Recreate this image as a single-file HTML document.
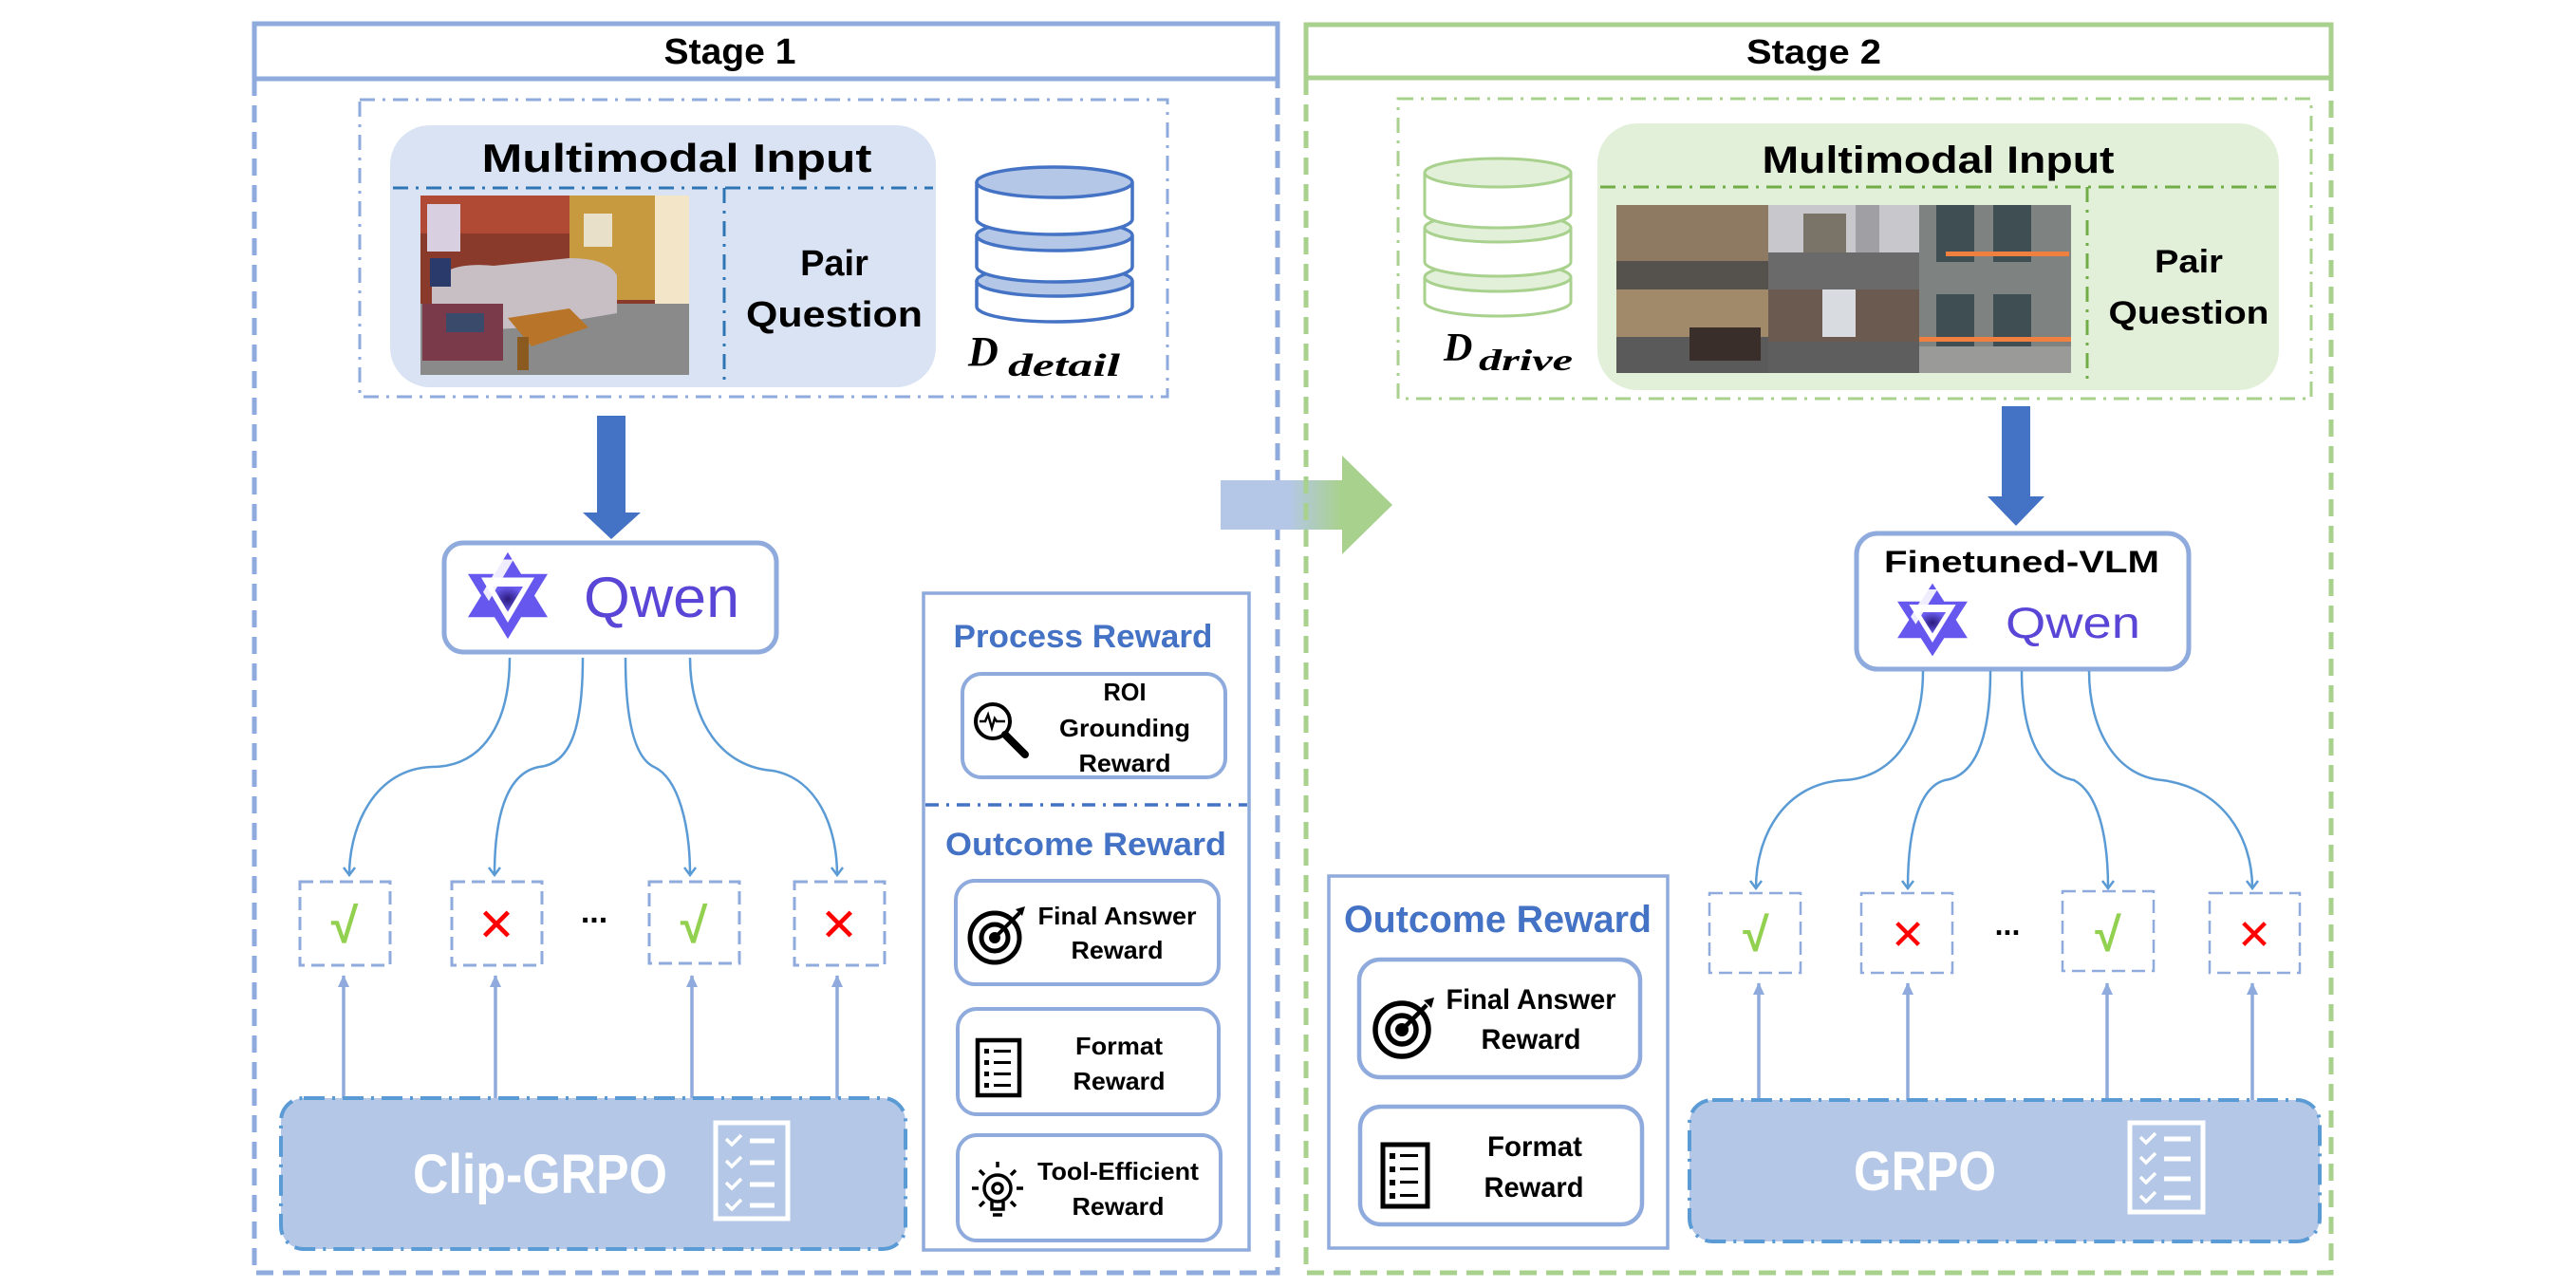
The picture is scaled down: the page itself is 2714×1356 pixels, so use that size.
<!DOCTYPE html>
<html><head><meta charset="utf-8"><style>html,body{margin:0;padding:0;background:#fff}svg{display:block}</style></head>
<body>
<svg width="2714" height="1356" viewBox="0 0 2714 1356" xmlns="http://www.w3.org/2000/svg" font-family="'Liberation Sans', 'DejaVu Sans', sans-serif">
<defs>
<marker id="ah" markerWidth="14" markerHeight="14" refX="10" refY="7" orient="auto" markerUnits="userSpaceOnUse">
<path d="M2,1 L10,7 L2,13" fill="none" stroke="#5b9bd5" stroke-width="2.5"/></marker>
<marker id="ah2" markerWidth="16" markerHeight="16" refX="12" refY="8" orient="auto" markerUnits="userSpaceOnUse">
<path d="M0,2 L13,8 L0,14 z" fill="#8faadc"/></marker>
<linearGradient id="tr" x1="0" x2="1" y1="0" y2="0"><stop offset="0" stop-color="#b4c7e7"/><stop offset="0.4" stop-color="#b4c7e7"/><stop offset="0.7" stop-color="#a9d18e"/><stop offset="1" stop-color="#a9d18e"/></linearGradient>
<radialGradient id="lg"><stop offset="0" stop-color="#2a1a7a"/><stop offset="1" stop-color="#6a5cf0"/></radialGradient>
<g id="logo">
<polygon points="50,2 64,26 92,26 78,50 92,74 64,74 50,98 36,74 8,74 22,50 8,26 36,26" fill="#6657ee"/>
<polygon points="22,30 78,30 50,80" fill="#fff"/>
<polygon points="34,40 66,40 50,68" fill="url(#lg)"/>
<polygon points="44,10 56,10 30,56 24,46" fill="#fff" opacity="0.9"/>
</g>
</defs>

<!-- ============ STAGE 1 ============ -->
<rect x="268" y="25" width="1078" height="58" fill="#fff" stroke="#8faadc" stroke-width="5"/>
<text x="769" y="67" font-size="38" font-weight="bold" text-anchor="middle" textLength="139" lengthAdjust="spacingAndGlyphs">Stage 1</text>
<path d="M268,83 V1341 H1346 V83" fill="none" stroke="#8faadc" stroke-width="5" stroke-dasharray="18,10"/>

<rect x="379" y="105" width="851" height="313" fill="none" stroke="#8faadc" stroke-width="3" stroke-dasharray="16,8,3,8"/>
<rect x="411" y="132" width="575" height="276" rx="42" fill="#dae3f3"/>
<text x="713" y="181" font-size="42" font-weight="bold" text-anchor="middle" textLength="411" lengthAdjust="spacingAndGlyphs">Multimodal Input</text>
<line x1="414" y1="198" x2="983" y2="198" stroke="#2e75b6" stroke-width="3" stroke-dasharray="16,8,3,8"/>
<line x1="763" y1="198" x2="763" y2="400" stroke="#2e75b6" stroke-width="3" stroke-dasharray="16,8,3,8"/>
<!-- living room photo -->
<g>
<rect x="443" y="206" width="283" height="189" fill="#8a3a2a"/>
<rect x="443" y="206" width="283" height="40" fill="#b04a35"/>
<rect x="600" y="206" width="126" height="110" fill="#c89a40"/>
<rect x="690" y="206" width="36" height="189" fill="#f3e6c8"/>
<rect x="450" y="215" width="35" height="50" fill="#d8d0e0"/>
<rect x="615" y="225" width="30" height="35" fill="#e8e0c8"/>
<rect x="443" y="320" width="283" height="75" fill="#8a8a8a"/>
<path d="M455,300 Q470,275 520,280 L600,272 Q640,272 650,290 L650,330 L560,345 L455,350 z" fill="#c8bfc4"/>
<rect x="445" y="320" width="85" height="60" fill="#7a3a4a"/>
<rect x="470" y="330" width="40" height="20" fill="#3a4a6a"/>
<path d="M535,335 L600,325 L620,345 L560,365 z" fill="#b8752a"/>
<rect x="545" y="355" width="12" height="35" fill="#8a5a20"/>
<rect x="453" y="272" width="22" height="30" fill="#2a3a6a"/>
</g>
<text x="879" y="290" font-size="38" font-weight="bold" text-anchor="middle">Pair</text>
<text x="879" y="344" font-size="38" font-weight="bold" text-anchor="middle" textLength="186" lengthAdjust="spacingAndGlyphs">Question</text>
<!-- database stage1 -->
<g stroke="#4472c4" stroke-width="3.5">
<path d="M1029,296 V323 A82,16 0 0 0 1193,323 V296" fill="#fff"/>
<ellipse cx="1111" cy="296" rx="82" ry="16" fill="#b4c7e7"/>
<path d="M1029,248 V281 A82,16 0 0 0 1193,281 V248" fill="#fff"/>
<ellipse cx="1111" cy="248" rx="82" ry="16" fill="#b4c7e7"/>
<path d="M1029,192 V231 A82,16 0 0 0 1193,231 V192" fill="#fff"/>
<ellipse cx="1111" cy="192" rx="82" ry="16" fill="#b4c7e7"/>
</g>
<text x="1020" y="385" font-family="'Liberation Serif', serif" font-size="44" font-weight="bold" font-style="italic">D</text>
<text x="1062" y="396" font-family="'Liberation Serif', serif" font-size="34" font-weight="bold" font-style="italic" textLength="118" lengthAdjust="spacingAndGlyphs">detail</text>

<!-- blue big arrow -->
<polygon points="629,438 659,438 659,540 675,540 644,568 614,540 629,540" fill="#4472c4"/>

<!-- Qwen box -->
<rect x="468" y="572" width="350" height="115" rx="20" fill="#fff" stroke="#8faadc" stroke-width="5"/>
<use href="#logo" transform="translate(485,580) scale(1,0.95)"/>
<text x="615" y="650" font-size="60" fill="#5a46d6" textLength="164" lengthAdjust="spacingAndGlyphs">Qwen</text>

<!-- curves stage1 -->
<g fill="none" stroke="#5b9bd5" stroke-width="2.5" marker-end="url(#ah)">
<path d="M537,693 C537,760 510,808 455,808 C395,810 368,870 368,922"/>
<path d="M614,693 C614,770 600,805 568,808 C530,815 521,870 521,922"/>
<path d="M659,693 C659,770 672,800 689,808 C715,820 727,870 727,922"/>
<path d="M727,693 C727,760 760,808 814,812 C860,820 882,870 882,922"/>
</g>
<g fill="none" stroke="#8faadc" stroke-width="3" stroke-dasharray="14,7">
<rect x="316" y="929" width="95" height="88"/>
<rect x="476" y="929" width="95" height="88"/>
<rect x="684" y="929" width="95" height="86"/>
<rect x="837" y="929" width="95" height="88"/>
</g>
<text x="363" y="993" font-size="52" font-weight="bold" fill="#92d050" text-anchor="middle">√</text>
<text x="523" y="991" font-size="48" font-weight="bold" fill="#ff0000" text-anchor="middle">✕</text>
<text x="731" y="993" font-size="52" font-weight="bold" fill="#92d050" text-anchor="middle">√</text>
<text x="884" y="991" font-size="48" font-weight="bold" fill="#ff0000" text-anchor="middle">✕</text>
<text x="626" y="972" font-size="34" font-weight="bold" text-anchor="middle">...</text>
<g stroke="#8faadc" stroke-width="3.5" marker-end="url(#ah2)">
<line x1="362" y1="1157" x2="362" y2="1028"/>
<line x1="522" y1="1157" x2="522" y2="1028"/>
<line x1="729" y1="1157" x2="729" y2="1028"/>
<line x1="882" y1="1157" x2="882" y2="1028"/>
</g>
<rect x="296" y="1157" width="658" height="159" rx="24" fill="#b4c7e7" stroke="#5b9bd5" stroke-width="4" stroke-dasharray="22,8,3,8"/>
<text x="569" y="1257" font-size="58" font-weight="bold" fill="#fff" text-anchor="middle" textLength="268" lengthAdjust="spacingAndGlyphs">Clip-GRPO</text>
<g stroke="#fff" fill="none" stroke-width="5">
<rect x="754" y="1183" width="76" height="101"/>
<line x1="790" y1="1202" x2="816" y2="1202"/><line x1="790" y1="1225" x2="816" y2="1225"/><line x1="790" y1="1248" x2="816" y2="1248"/><line x1="790" y1="1270" x2="816" y2="1270"/>
<path d="M765,1200 l6,6 l10,-10 M765,1223 l6,6 l10,-10 M765,1246 l6,6 l10,-10 M765,1268 l6,6 l10,-10" stroke-width="3.5"/>
</g>

<!-- reward panel stage1 -->
<rect x="973" y="625" width="343" height="692" fill="#fff" stroke="#8faadc" stroke-width="3.5"/>
<text x="1141" y="682" font-size="34" font-weight="bold" fill="#4472c4" text-anchor="middle" textLength="273" lengthAdjust="spacingAndGlyphs">Process Reward</text>
<rect x="1014" y="710" width="277" height="109" rx="20" fill="#fff" stroke="#8faadc" stroke-width="4"/>
<text x="1185" y="738" font-size="26" font-weight="bold" text-anchor="middle" textLength="45" lengthAdjust="spacingAndGlyphs">ROI</text>
<text x="1185" y="776" font-size="26" font-weight="bold" text-anchor="middle" textLength="138" lengthAdjust="spacingAndGlyphs">Grounding</text>
<text x="1185" y="813" font-size="26" font-weight="bold" text-anchor="middle" textLength="97" lengthAdjust="spacingAndGlyphs">Reward</text>
<g stroke="#000" fill="none" stroke-width="4">
<circle cx="1046" cy="760" r="18"/><line x1="1059" y1="774" x2="1080" y2="795" stroke-width="8" stroke-linecap="round"/>
<path d="M1032,760 h6 l3,-7 l4,14 l3,-10 l2,3 h9" stroke-width="2.5"/>
</g>
<line x1="975" y1="848" x2="1314" y2="848" stroke="#4472c4" stroke-width="3.5" stroke-dasharray="14,8,3,8"/>
<text x="1144" y="901" font-size="34" font-weight="bold" fill="#4472c4" text-anchor="middle" textLength="296" lengthAdjust="spacingAndGlyphs">Outcome Reward</text>
<rect x="1007" y="928" width="277" height="109" rx="20" fill="#fff" stroke="#8faadc" stroke-width="4"/>
<text x="1177" y="974" font-size="26" font-weight="bold" text-anchor="middle" textLength="167" lengthAdjust="spacingAndGlyphs">Final Answer</text>
<text x="1177" y="1010" font-size="26" font-weight="bold" text-anchor="middle" textLength="97" lengthAdjust="spacingAndGlyphs">Reward</text>
<g fill="none" stroke="#000" stroke-width="5"><circle cx="1048" cy="988" r="26"/><circle cx="1048" cy="988" r="14"/></g>
<circle cx="1048" cy="988" r="6" fill="#000"/><path d="M1048,988 L1074,962" stroke="#000" stroke-width="4"/><path d="M1070,958 l10,-3 l-3,10 z" fill="#000"/>
<rect x="1009" y="1063" width="275" height="111" rx="20" fill="#fff" stroke="#8faadc" stroke-width="4"/>
<text x="1179" y="1111" font-size="26" font-weight="bold" text-anchor="middle" textLength="92" lengthAdjust="spacingAndGlyphs">Format</text>
<text x="1179" y="1148" font-size="26" font-weight="bold" text-anchor="middle" textLength="97" lengthAdjust="spacingAndGlyphs">Reward</text>
<g><rect x="1030" y="1096" width="44" height="58" fill="none" stroke="#000" stroke-width="4.5"/>
<g fill="#000"><rect x="1037" y="1105" width="5" height="5"/><rect x="1037" y="1117" width="5" height="5"/><rect x="1037" y="1129" width="5" height="5"/><rect x="1037" y="1141" width="5" height="5"/>
<rect x="1047" y="1106" width="18" height="3"/><rect x="1047" y="1118" width="18" height="3"/><rect x="1047" y="1130" width="18" height="3"/><rect x="1047" y="1142" width="18" height="3"/></g></g>
<rect x="1009" y="1196" width="277" height="111" rx="20" fill="#fff" stroke="#8faadc" stroke-width="4"/>
<text x="1178" y="1243" font-size="26" font-weight="bold" text-anchor="middle" textLength="170" lengthAdjust="spacingAndGlyphs">Tool-Efficient</text>
<text x="1178" y="1280" font-size="26" font-weight="bold" text-anchor="middle" textLength="97" lengthAdjust="spacingAndGlyphs">Reward</text>
<g stroke="#000" stroke-width="3.5" fill="none"><circle cx="1051" cy="1252" r="14"/><circle cx="1051" cy="1252" r="5"/>
<path d="M1045,1266 v8 h12 v-8 M1046,1280 h10"/>
<path d="M1051,1230 v-6 M1031,1252 h-7 M1071,1252 h7 M1037,1238 l-5,-5 M1065,1238 l5,-5 M1037,1266 l-5,5 M1065,1266 l5,5"/></g>

<!-- transition arrow -->
<polygon points="1286,506 1414,506 1414,480 1467,532 1414,584 1414,558 1286,558" fill="url(#tr)"/>

<!-- ============ STAGE 2 ============ -->
<rect x="1376" y="26" width="1080" height="56" fill="#fff" stroke="#a9d18e" stroke-width="5"/>
<text x="1911" y="67" font-size="36" font-weight="bold" text-anchor="middle" textLength="142" lengthAdjust="spacingAndGlyphs">Stage 2</text>
<path d="M1376,82 V1341 H2456 V82" fill="none" stroke="#a9d18e" stroke-width="5" stroke-dasharray="18,10"/>
<rect x="1473" y="104" width="962" height="316" fill="none" stroke="#a9d18e" stroke-width="3" stroke-dasharray="16,8,3,8"/>
<g stroke="#a9d18e" stroke-width="3">
<path d="M1501,292 V318 A77,15 0 0 0 1655,318 V292" fill="#fff"/>
<ellipse cx="1578" cy="292" rx="77" ry="15" fill="#e2f0d9"/>
<path d="M1501,240 V276 A77,15 0 0 0 1655,276 V240" fill="#fff"/>
<ellipse cx="1578" cy="240" rx="77" ry="15" fill="#e2f0d9"/>
<path d="M1501,182 V225 A77,15 0 0 0 1655,225 V182" fill="#fff"/>
<ellipse cx="1578" cy="182" rx="77" ry="15" fill="#e2f0d9"/>
</g>
<text x="1521" y="380" font-family="'Liberation Serif', serif" font-size="42" font-weight="bold" font-style="italic">D</text>
<text x="1558" y="390" font-family="'Liberation Serif', serif" font-size="32" font-weight="bold" font-style="italic" textLength="99" lengthAdjust="spacingAndGlyphs">drive</text>
<rect x="1683" y="130" width="718" height="281" rx="42" fill="#e2f0d9"/>
<text x="2042" y="182" font-size="40" font-weight="bold" text-anchor="middle" textLength="371" lengthAdjust="spacingAndGlyphs">Multimodal Input</text>
<line x1="1686" y1="197" x2="2398" y2="197" stroke="#70ad47" stroke-width="3" stroke-dasharray="16,8,3,8"/>
<line x1="2199" y1="197" x2="2199" y2="405" stroke="#70ad47" stroke-width="3" stroke-dasharray="16,8,3,8"/>
<!-- street photos -->
<g>
<rect x="1703" y="216" width="479" height="177" fill="#6e6e6c"/>
<rect x="1703" y="216" width="160" height="89" fill="#8e7a62"/><rect x="1703" y="275" width="160" height="30" fill="#55524e"/>
<rect x="1863" y="216" width="159" height="50" fill="#c8c8cc"/><rect x="1900" y="225" width="45" height="45" fill="#7a7468"/><rect x="1955" y="216" width="25" height="50" fill="#a0a0a4"/>
<rect x="1863" y="266" width="159" height="39" fill="#6a6a6a"/>
<rect x="2022" y="216" width="160" height="89" fill="#7e8280"/><rect x="2040" y="216" width="40" height="60" fill="#3e4e52"/><rect x="2100" y="216" width="40" height="60" fill="#3e4e52"/>
<rect x="2050" y="265" width="130" height="5" fill="#f08040"/>
<rect x="1703" y="305" width="160" height="88" fill="#a08a6a"/><rect x="1703" y="355" width="160" height="38" fill="#5a5a5a"/><rect x="1780" y="345" width="75" height="35" fill="#3a2e2a"/>
<rect x="1863" y="305" width="159" height="88" fill="#6a5a50"/><rect x="1920" y="305" width="35" height="50" fill="#d8dce0"/><rect x="1863" y="360" width="159" height="33" fill="#5e5e5e"/>
<rect x="2022" y="305" width="160" height="88" fill="#7e8280"/><rect x="2040" y="310" width="40" height="55" fill="#3e4e52"/><rect x="2100" y="310" width="40" height="55" fill="#3e4e52"/>
<rect x="2022" y="355" width="160" height="5" fill="#f08040"/><rect x="2022" y="365" width="160" height="28" fill="#9a9a98"/>
</g>
<text x="2306" y="287" font-size="34" font-weight="bold" text-anchor="middle" textLength="72" lengthAdjust="spacingAndGlyphs">Pair</text>
<text x="2306" y="341" font-size="34" font-weight="bold" text-anchor="middle" textLength="169" lengthAdjust="spacingAndGlyphs">Question</text>
<polygon points="2109,428 2139,428 2139,523 2154,523 2124,554 2094,523 2109,523" fill="#4472c4"/>
<rect x="1956" y="562" width="350" height="143" rx="22" fill="#fff" stroke="#8faadc" stroke-width="5"/>
<text x="2130" y="603" font-size="32" font-weight="bold" text-anchor="middle" textLength="290" lengthAdjust="spacingAndGlyphs">Finetuned-VLM</text>
<use href="#logo" transform="translate(1992,613) scale(0.88,0.8)"/>
<text x="2113" y="672" font-size="46" fill="#5a46d6" textLength="142" lengthAdjust="spacingAndGlyphs">Qwen</text>
<g fill="none" stroke="#5b9bd5" stroke-width="2.5" marker-end="url(#ah)">
<path d="M2026,707 C2026,780 1990,820 1942,822 C1880,826 1850,880 1850,936"/>
<path d="M2097,707 C2097,780 2080,818 2049,822 C2020,830 2010,880 2010,936"/>
<path d="M2130,707 C2130,775 2150,815 2185,822 C2210,835 2221,880 2221,936"/>
<path d="M2201,707 C2201,770 2230,818 2278,822 C2340,830 2373,880 2373,936"/>
</g>
<g fill="none" stroke="#8faadc" stroke-width="2.5" stroke-dasharray="14,7">
<rect x="1801" y="941" width="96" height="84"/>
<rect x="1961" y="941" width="96" height="84"/>
<rect x="2173" y="939" width="96" height="84"/>
<rect x="2328" y="941" width="95" height="84"/>
</g>
<text x="1850" y="1002" font-size="50" font-weight="bold" fill="#92d050" text-anchor="middle">√</text>
<text x="2010" y="1000" font-size="44" font-weight="bold" fill="#ff0000" text-anchor="middle">✕</text>
<text x="2221" y="1002" font-size="50" font-weight="bold" fill="#92d050" text-anchor="middle">√</text>
<text x="2375" y="1000" font-size="44" font-weight="bold" fill="#ff0000" text-anchor="middle">✕</text>
<text x="2115" y="985" font-size="32" font-weight="bold" text-anchor="middle">...</text>
<g stroke="#8faadc" stroke-width="3.5" marker-end="url(#ah2)">
<line x1="1853" y1="1159" x2="1853" y2="1036"/>
<line x1="2010" y1="1159" x2="2010" y2="1036"/>
<line x1="2220" y1="1159" x2="2220" y2="1036"/>
<line x1="2373" y1="1159" x2="2373" y2="1036"/>
</g>
<rect x="1780" y="1159" width="664" height="149" rx="24" fill="#b4c7e7" stroke="#5b9bd5" stroke-width="4" stroke-dasharray="22,8,3,8"/>
<text x="2028" y="1254" font-size="58" font-weight="bold" fill="#fff" text-anchor="middle" textLength="150" lengthAdjust="spacingAndGlyphs">GRPO</text>
<g stroke="#fff" fill="none" stroke-width="5">
<rect x="2244" y="1183" width="77" height="94"/>
<line x1="2280" y1="1200" x2="2308" y2="1200"/><line x1="2280" y1="1221" x2="2308" y2="1221"/><line x1="2280" y1="1242" x2="2308" y2="1242"/><line x1="2280" y1="1262" x2="2308" y2="1262"/>
<path d="M2255,1198 l6,6 l10,-10 M2255,1219 l6,6 l10,-10 M2255,1240 l6,6 l10,-10 M2255,1260 l6,6 l10,-10" stroke-width="3.5"/>
</g>
<!-- outcome panel stage2 -->
<rect x="1400" y="923" width="357" height="392" fill="#fff" stroke="#8faadc" stroke-width="3.5"/>
<text x="1578" y="982" font-size="40" font-weight="bold" fill="#4472c4" text-anchor="middle" textLength="324" lengthAdjust="spacingAndGlyphs">Outcome Reward</text>
<rect x="1432" y="1011" width="296" height="124" rx="22" fill="#fff" stroke="#8faadc" stroke-width="4.5"/>
<text x="1613" y="1063" font-size="30" font-weight="bold" text-anchor="middle" textLength="179" lengthAdjust="spacingAndGlyphs">Final Answer</text>
<text x="1613" y="1105" font-size="30" font-weight="bold" text-anchor="middle" textLength="105" lengthAdjust="spacingAndGlyphs">Reward</text>
<g fill="none" stroke="#000" stroke-width="5.5"><circle cx="1477" cy="1085" r="28"/><circle cx="1477" cy="1085" r="15"/></g>
<circle cx="1477" cy="1085" r="7" fill="#000"/><path d="M1477,1085 L1503,1059" stroke="#000" stroke-width="4.5"/><path d="M1500,1054 l11,-3 l-3,11 z" fill="#000"/>
<rect x="1433" y="1166" width="297" height="124" rx="22" fill="#fff" stroke="#8faadc" stroke-width="4.5"/>
<text x="1617" y="1218" font-size="30" font-weight="bold" text-anchor="middle" textLength="100" lengthAdjust="spacingAndGlyphs">Format</text>
<text x="1616" y="1261" font-size="30" font-weight="bold" text-anchor="middle" textLength="105" lengthAdjust="spacingAndGlyphs">Reward</text>
<g><rect x="1457" y="1206" width="47" height="65" fill="none" stroke="#000" stroke-width="5"/>
<g fill="#000"><rect x="1464" y="1215" width="6" height="6"/><rect x="1464" y="1229" width="6" height="6"/><rect x="1464" y="1243" width="6" height="6"/><rect x="1464" y="1257" width="6" height="6"/>
<rect x="1475" y="1216" width="19" height="3"/><rect x="1475" y="1230" width="19" height="3"/><rect x="1475" y="1244" width="19" height="3"/><rect x="1475" y="1258" width="19" height="3"/></g></g>
</svg>
</body></html>
